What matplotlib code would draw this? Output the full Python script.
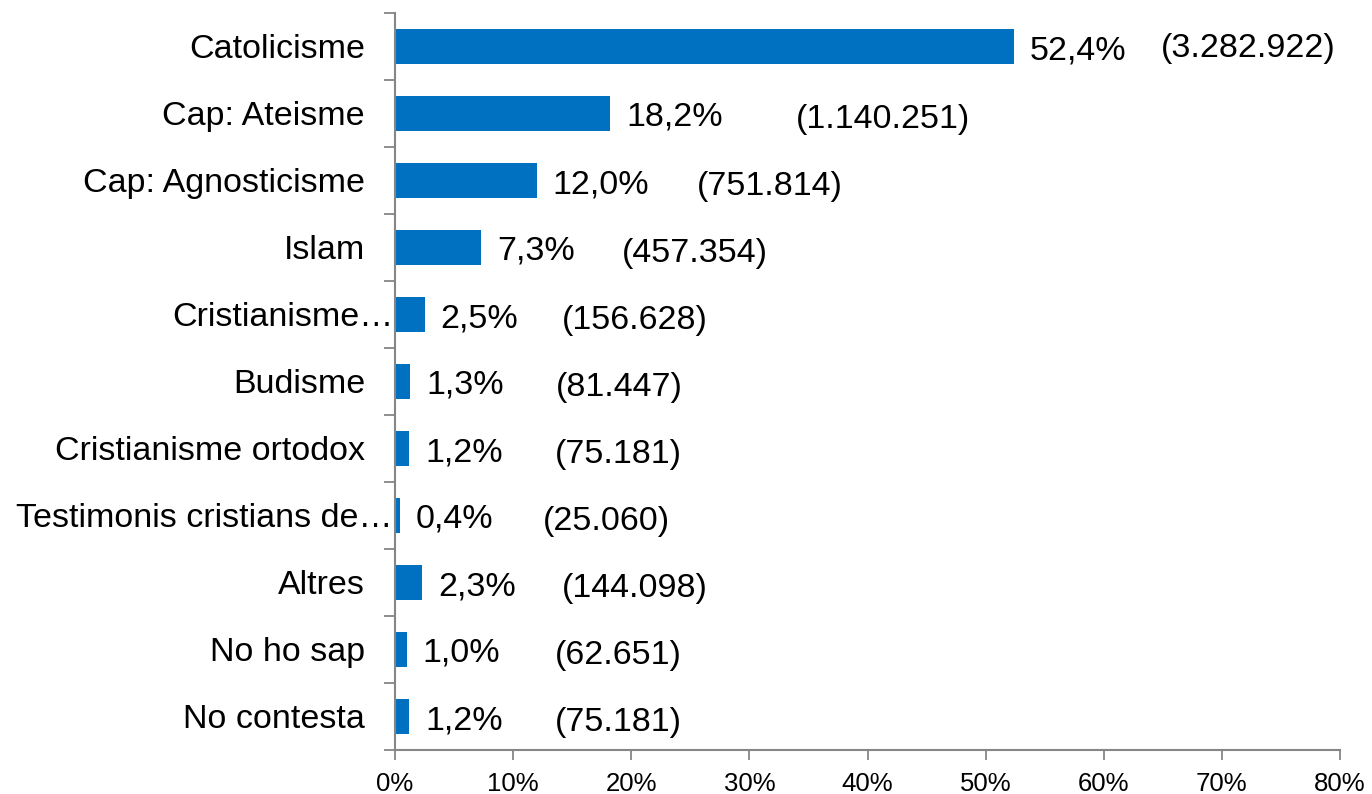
import matplotlib
matplotlib.use("Agg")
import matplotlib.pyplot as plt
import numpy as np

plt.rcParams['font.family'] = ['Liberation Sans', 'DejaVu Sans']

categories = ['Catolicisme', 'Cap: Ateisme', 'Cap: Agnosticisme', 'Islam',
              'Cristianisme\u2026', 'Budisme', 'Cristianisme ortodox',
              'Testimonis cristians de\u2026', 'Altres', 'No ho sap', 'No contesta']
pct = [52.4, 18.2, 12.0, 7.3, 2.5, 1.3, 1.2, 0.4, 2.3, 1.0, 1.2]
counts = ['3.282.922', '1.140.251', '751.814', '457.354', '156.628', '81.447',
          '75.181', '25.060', '144.098', '62.651', '75.181']

# pixel gap between bar end and the count label (hand placed in the original)
count_gap = [147, 186, 160, 141, 137, 146, 146, 143, 140, 148, 146]

blue = '#0070C0'
grey = '#868686'

fig = plt.figure(figsize=(13.72, 7.94), dpi=100)
ax = fig.add_axes([395 / 1372, 1 - 750 / 794, 945 / 1372, 737 / 794])

y = np.arange(len(categories))
ax.barh(y, pct, height=0.52, color=blue)

ax.set_xlim(0, 80)
ax.set_ylim(len(categories) - 0.5, -0.5)

ax.set_xticks(np.arange(0, 81, 10))
ax.set_xticklabels([f'{v}%' for v in range(0, 81, 10)], fontsize=18.5)
ax.tick_params(axis='x', length=7, width=1.3, color=grey, pad=9)

ax.set_yticks([])
ax.set_yticks(np.arange(-0.5, len(categories)), minor=True)
ax.tick_params(axis='y', which='minor', length=8, width=1.3, color=grey)

for s in ['top', 'right']:
    ax.spines[s].set_visible(False)
for s in ['left', 'bottom']:
    ax.spines[s].set_color(grey)
    ax.spines[s].set_linewidth(1.5)

pt = 0.72  # points per pixel at 100 dpi
for i, name in enumerate(categories):
    off = -2 if name.endswith('\u2026') else -30
    ax.annotate(name, xy=(0, i), xytext=(off * pt, -3 * pt), textcoords='offset points',
                ha='right', va='center', fontsize=24.5)
    ax.annotate(f'{pct[i]:.1f}%'.replace('.', ','), xy=(pct[i], i),
                xytext=(16 * pt, -4 * pt), textcoords='offset points',
                ha='left', va='center', fontsize=24.5)
    ax.annotate(f'({counts[i]})', xy=(pct[i], i),
                xytext=(count_gap[i] * pt, -6 * pt if i > 0 else -2 * pt),
                textcoords='offset points', ha='left', va='center', fontsize=24.5)

fig.savefig('out.png', dpi=100)
